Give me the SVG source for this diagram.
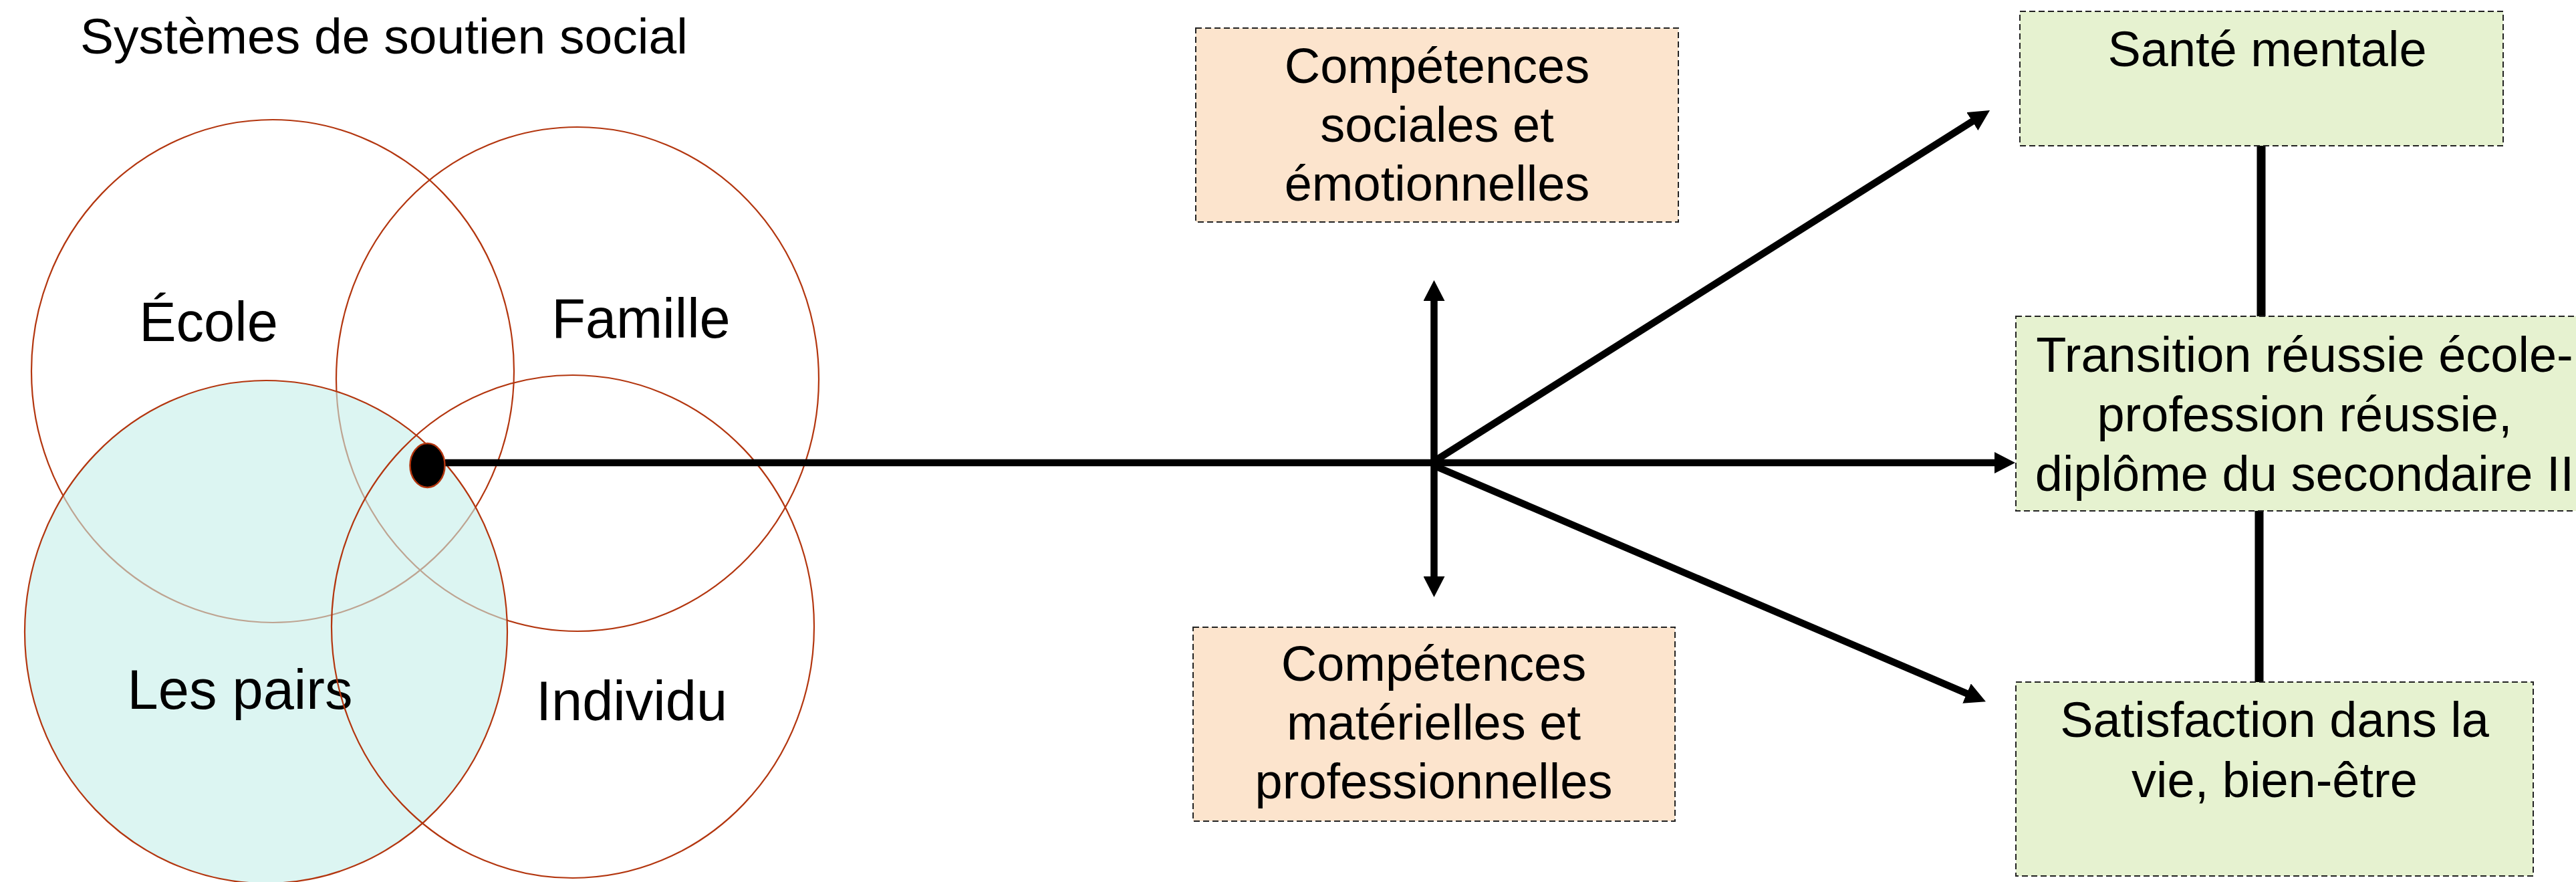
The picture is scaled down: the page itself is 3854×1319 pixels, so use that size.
<svg xmlns="http://www.w3.org/2000/svg" width="3854" height="1319" viewBox="0 0 3854 1319">
<style>
.t{font-family:"Liberation Sans",Arial,sans-serif;fill:#000}
.c{fill:none;stroke:#B3360F;stroke-width:2.2}
.box{stroke:#222;stroke-width:2;stroke-dasharray:9 5}
.peach{fill:#FCE4CD}
.green{fill:#E6F2D0}
.bt{font-size:74px;text-anchor:middle}
.ln{stroke:#000;stroke-width:10.5;fill:none}
</style>
<defs>
<marker id="ah" viewBox="0 0 31 32" refX="2" refY="16" markerWidth="31" markerHeight="32" markerUnits="userSpaceOnUse" orient="auto-start-reverse">
<path d="M0,0 L31,16 L0,32 Z" fill="#000"/>
</marker>
</defs>
<rect width="3854" height="1319" fill="#fff"/>
<g id="title"><text class="t" x="120" y="80" font-size="75">Systèmes de soutien social</text></g>
<g id="ecole"><ellipse class="c" cx="408" cy="555" rx="361" ry="376"/><text class="t" x="312" y="510" font-size="83" text-anchor="middle">École</text></g>
<g id="famille"><ellipse class="c" cx="864" cy="567" rx="361" ry="377"/><text class="t" x="959" y="505" font-size="83" text-anchor="middle">Famille</text></g>
<g id="pairs"><ellipse cx="398" cy="945" rx="361" ry="376" fill="#C4EFEA" fill-opacity="0.6"/><ellipse class="c" cx="398" cy="945" rx="361" ry="376"/><text class="t" x="359" y="1060" font-size="83" text-anchor="middle">Les pairs</text></g>
<g id="individu"><ellipse class="c" cx="857" cy="937" rx="361" ry="376"/><text class="t" x="945" y="1077" font-size="83" text-anchor="middle">Individu</text></g>
<g id="connectors">
<line class="ln" x1="666" y1="692" x2="2986" y2="692" marker-end="url(#ah)"/>
<line class="ln" x1="2145.5" y1="448" x2="2145.5" y2="864" marker-start="url(#ah)" marker-end="url(#ah)"/>
<line class="ln" x1="2147" y1="689" x2="2952.5" y2="180.5" marker-end="url(#ah)"/>
<line class="ln" x1="2147" y1="697" x2="2944.3" y2="1037.8" marker-end="url(#ah)"/>
<line stroke="#000" stroke-width="13" x1="3383" y1="218" x2="3383" y2="473"/>
<line stroke="#000" stroke-width="13" x1="3380" y1="764" x2="3380" y2="1020"/>
</g>
<g id="dot"><ellipse cx="639.5" cy="696" rx="26" ry="33" fill="#000" stroke="#B3360F" stroke-width="2.5"/></g>
<g id="socio"><rect class="box peach" x="1789" y="42" width="722" height="290"/>
<text class="t bt" x="2150" y="124">Compétences</text><text class="t bt" x="2150" y="212">sociales et</text><text class="t bt" x="2150" y="300">émotionnelles</text></g>
<g id="materielles"><rect class="box peach" x="1785" y="938" width="721" height="290"/>
<text class="t bt" x="2145" y="1018">Compétences</text><text class="t bt" x="2145" y="1106">matérielles et</text><text class="t bt" x="2145" y="1194">professionnelles</text></g>
<g id="sante"><rect class="box green" x="3022" y="17" width="723" height="201"/>
<text class="t bt" x="3392" y="99">Santé mentale</text></g>
<g id="transition"><rect class="box green" x="3016" y="473" width="880" height="291"/>
<text class="t bt" x="3448" y="556">Transition réussie école-</text><text class="t bt" x="3448" y="645">profession réussie,</text><text class="t bt" x="3448" y="734">diplôme du secondaire II</text></g>
<g id="satisfaction"><rect class="box green" x="3016" y="1020" width="774" height="290"/>
<text class="t bt" x="3403" y="1102">Satisfaction dans la</text><text class="t bt" x="3403" y="1192">vie, bien-être</text></g>
</svg>
